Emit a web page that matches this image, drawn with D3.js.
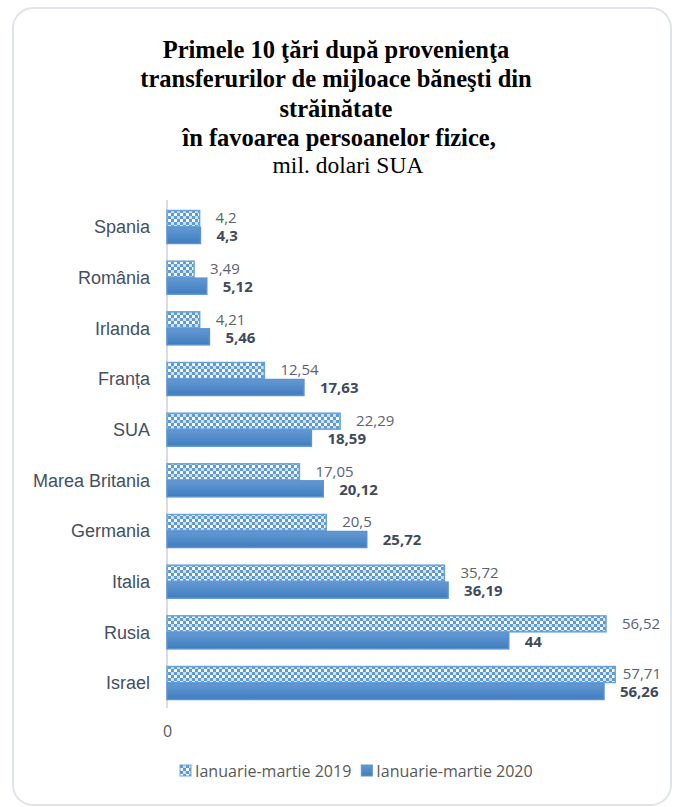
<!DOCTYPE html>
<html>
<head>
<meta charset="utf-8">
<script src="https://cdn.jsdelivr.net/npm/d3@7"></script>
<style>
  html, body { margin: 0; padding: 0; background: #fff; }
  svg { display: block; }
</style>
</head>
<body>
<svg id="chart" width="676" height="807"></svg>
<script>
// Countries, top to bottom
const categories = ["Spania", "România", "Irlanda", "Franța", "SUA", "Marea Britania", "Germania", "Italia", "Rusia", "Israel"];
// Values, mil. dolari SUA
const values2019 = [4.2, 3.49, 4.21, 12.54, 22.29, 17.05, 20.5, 35.72, 56.52, 57.71];
const values2020 = [4.3, 5.12, 5.46, 17.63, 18.59, 20.12, 25.72, 36.19, 44, 56.26];
const seriesNames = ["Ianuarie-martie 2019", "Ianuarie-martie 2020"];
const titleLines = ["Primele 10 ţări după provenienţa", "transferurilor de mijloace băneşti din", "străinătate", " în favoarea persoanelor fizice,"];
const subtitle = "mil. dolari SUA";
const xTicks = [0];

const svg = d3.select("#chart");

// outer rounded frame
svg.append("rect")
  .attr("x", 13).attr("y", 8).attr("width", 658).attr("height", 797)
  .attr("rx", 20).attr("ry", 20)
  .attr("fill", "#fff").attr("stroke", "#dfe4ea").attr("stroke-width", 2);

const defs = svg.append("defs");
// checker pattern for the 2019 series
const pat = defs.append("pattern")
  .attr("id", "checker").attr("patternUnits", "userSpaceOnUse")
  .attr("width", 6).attr("height", 6);
pat.append("rect").attr("width", 6).attr("height", 6).attr("fill", "#ffffff");
pat.append("rect").attr("x", 0).attr("y", 0).attr("width", 3).attr("height", 3).attr("fill", "#5e9ad6");
pat.append("rect").attr("x", 3).attr("y", 3).attr("width", 3).attr("height", 3).attr("fill", "#5e9ad6");
pat.append("rect").attr("x", 3).attr("y", 0).attr("width", 3).attr("height", 3).attr("fill", "#cfe1f4");

// vertical gradient for the 2020 series
const grad = defs.append("linearGradient")
  .attr("id", "solid").attr("x1", 0).attr("y1", 0).attr("x2", 0).attr("y2", 1);
grad.append("stop").attr("offset", "0%").attr("stop-color", "#6499d1");
grad.append("stop").attr("offset", "100%").attr("stop-color", "#3f7dc0");

// title
const title = svg.append("text")
  .attr("text-anchor", "middle")
  .attr("font-family", "'Liberation Serif', 'DejaVu Serif', serif")
  .attr("fill", "#000");
const titleBaselines = [57.5, 87, 116.5, 145.5];
titleLines.forEach((t, i) => {
  title.append("tspan")
    .attr("x", 336).attr("y", titleBaselines[i])
    .attr("font-size", 24.5).attr("font-weight", "bold")
    .style("white-space", "pre")
    .text(t);
});
title.append("tspan")
  .attr("x", 348).attr("y", 173)
  .attr("font-size", 23.5)
  .text(subtitle);

// scales
const x = d3.scaleLinear().domain([0, 60]).range([167, 633]);
const y = d3.scaleBand().domain(categories).range([201.67, 708.33])
  .paddingInner(0.329).paddingOuter(0.1645);
const inner = d3.scaleBand().domain([0, 1]).range([0, y.bandwidth()]);

// category axis line
svg.append("line")
  .attr("x1", x(0)).attr("x2", x(0))
  .attr("y1", 200).attr("y2", 708)
  .attr("stroke", "#d9dde3").attr("stroke-width", 2);

// category labels
const yAxis = svg.append("g")
  .attr("transform", `translate(${x(0) - 17},0)`)
  .call(d3.axisLeft(y).tickSize(0).tickPadding(0));
yAxis.select(".domain").remove();
yAxis.selectAll("text")
  .attr("font-family", "'Liberation Sans', Arial, sans-serif")
  .attr("font-size", 18)
  .attr("fill", "#454f5e")
  .attr("dy", "0.36em");

// value axis: only the zero label
const xAxis = svg.append("g")
  .attr("transform", "translate(0,726)")
  .call(d3.axisBottom(x).tickValues(xTicks).tickSize(0).tickPadding(0).tickFormat(d3.format("d")));
xAxis.select(".domain").remove();
xAxis.selectAll("text")
  .attr("font-family", "'Open Sans', sans-serif")
  .attr("font-size", 16)
  .attr("fill", "#595959");

const fmt = v => String(v).replace(".", ",");
const series = [
  { values: values2019, fill: "url(#checker)", stroke: "#6aa3dc", weight: "normal", color: "#5a6270", shift: -0.5 },
  { values: values2020, fill: "url(#solid)", stroke: "#5b93cf", weight: "bold", color: "#3f4b5c", shift: 0.5 }
];

series.forEach((s, si) => {
  const g = svg.append("g");
  g.selectAll("rect")
    .data(categories)
    .join("rect")
    .attr("x", x(0))
    .attr("y", c => y(c) + inner(si) + 0.5)
    .attr("width", (c, i) => x(s.values[i]) - x(0))
    .attr("height", inner.bandwidth() - 1)
    .attr("fill", s.fill)
    .attr("stroke", s.stroke)
    .attr("stroke-width", 1.5);

  const labels = g.selectAll("text")
    .data(categories)
    .join("text")
    .attr("y", c => y(c) + inner(si) + inner.bandwidth() / 2 + s.shift)
    .attr("dy", "0.36em")
    .attr("font-family", "'Open Sans', sans-serif")
    .attr("font-size", 15)
    .attr("font-weight", s.weight)
    .attr("fill", s.color)
    .text((c, i) => fmt(s.values[i]));
  // place labels beyond the bar end, kept inside the frame
  labels.each(function(c, i) {
    const w = this.getComputedTextLength();
    let lx = x(s.values[i]) + 16;
    if (lx + w > 661) lx = 661 - w;
    d3.select(this).attr("x", lx);
  });
});

// legend
const legend = svg.append("g").attr("transform", "translate(0,771)");
let lx = 180;
seriesNames.forEach((name, i) => {
  legend.append("rect")
    .attr("x", lx).attr("y", -6).attr("width", 11).attr("height", 11)
    .attr("fill", series[i].fill)
    .attr("stroke", series[i].stroke).attr("stroke-width", 1);
  const t = legend.append("text")
    .attr("x", lx + 15).attr("y", 0).attr("dy", "0.35em")
    .attr("font-family", "'Open Sans', sans-serif")
    .attr("font-size", 16)
    .attr("fill", "#595959")
    .text(name);
  lx += 15 + t.node().getComputedTextLength() + 10;
});
</script>
</body>
</html>
